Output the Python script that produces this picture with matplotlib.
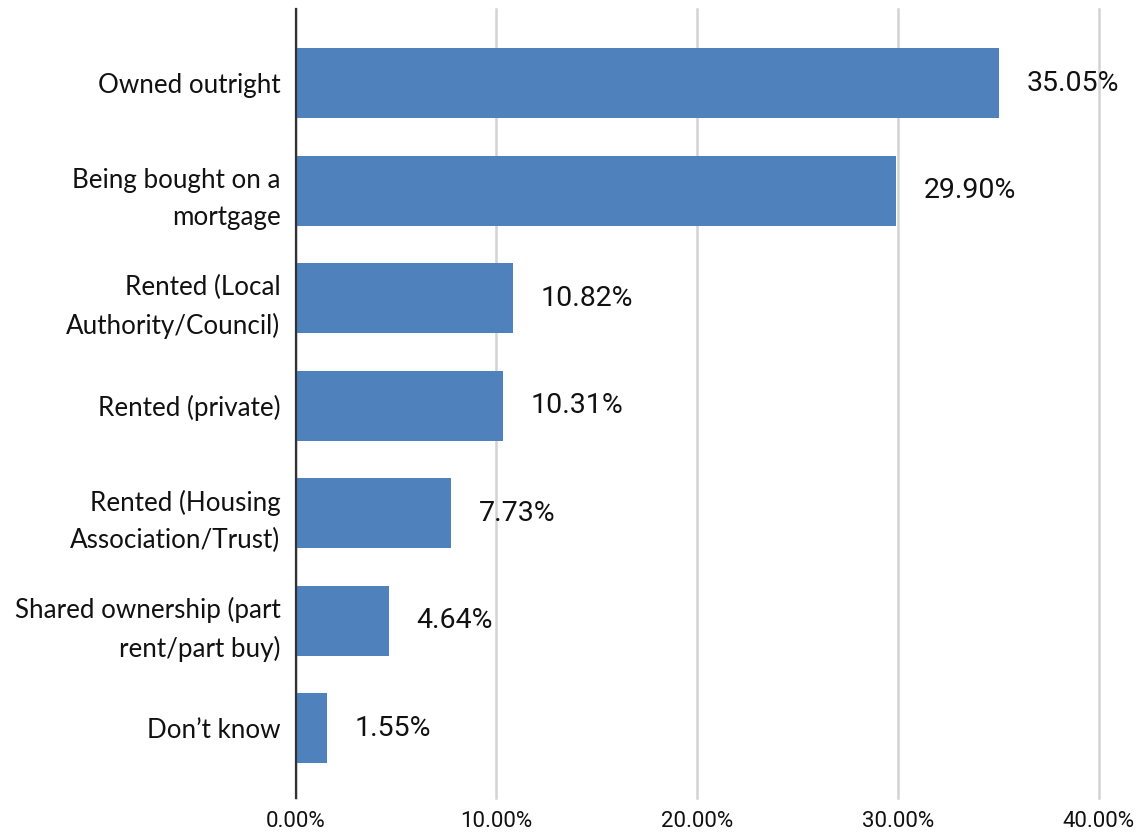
import matplotlib
matplotlib.use("Agg")
import matplotlib.pyplot as plt
from matplotlib.ticker import FuncFormatter, MultipleLocator

categories = [
    "Owned outright",
    "Being bought on a\nmortgage",
    "Rented (Local\nAuthority/Council)",
    "Rented (private)",
    "Rented (Housing\nAssociation/Trust)",
    "Shared ownership (part\nrent/part buy)",
    "Don\u2019t know",
]
values = [35.05, 29.90, 10.82, 10.31, 7.73, 4.64, 1.55]
value_labels = ["35.05%", "29.90%", "10.82%", "10.31%", "7.73%", "4.64%", "1.55%"]

BAR_COLOR = "#4F81BD"
GRID_COLOR = "#D3D3D3"

fig = plt.figure(figsize=(11.44, 8.35), dpi=100)
ax = fig.add_axes([0.2585, 0.0443, 0.9604 - 0.2585, 0.9892 - 0.0443])

y = list(range(len(categories)))
ax.barh(y, values, height=0.65, color=BAR_COLOR, zorder=3)

for yi, v, lab in zip(y, values, value_labels):
    ax.annotate(lab, xy=(v, yi), xytext=(20, 0), textcoords="offset points",
                ha="left", va="center", fontsize=20.5, family="Roboto",
                color="#111111", zorder=4)

ax.set_xlim(0, 40)
ax.set_ylim(len(categories) - 1 + 0.65, -0.69)
ax.xaxis.set_major_locator(MultipleLocator(10))
ax.xaxis.set_major_formatter(FuncFormatter(lambda x, p: f"{x:.2f}%"))
ax.set_yticks(y)
ax.set_yticklabels(categories, fontsize=18.7, family="Lato", linespacing=1.58,
                   color="#111111", ha="right")
ax.tick_params(axis="y", length=0, pad=11)
ax.tick_params(axis="x", length=0, pad=9, labelsize=16, labelcolor="#111111")
for t in ax.get_xticklabels():
    t.set_family("Roboto")

ax.grid(axis="x", color=GRID_COLOR, linewidth=1.8, zorder=0)
ax.grid(axis="y", visible=False)
for gl in ax.get_xgridlines():
    gl.set_clip_on(False)
for s in ["top", "right", "bottom"]:
    ax.spines[s].set_visible(False)
ax.spines["left"].set_color("#333333")
ax.spines["left"].set_linewidth(1.6)
ax.spines["left"].set_zorder(5)

fig.savefig("out.png", dpi=100)
